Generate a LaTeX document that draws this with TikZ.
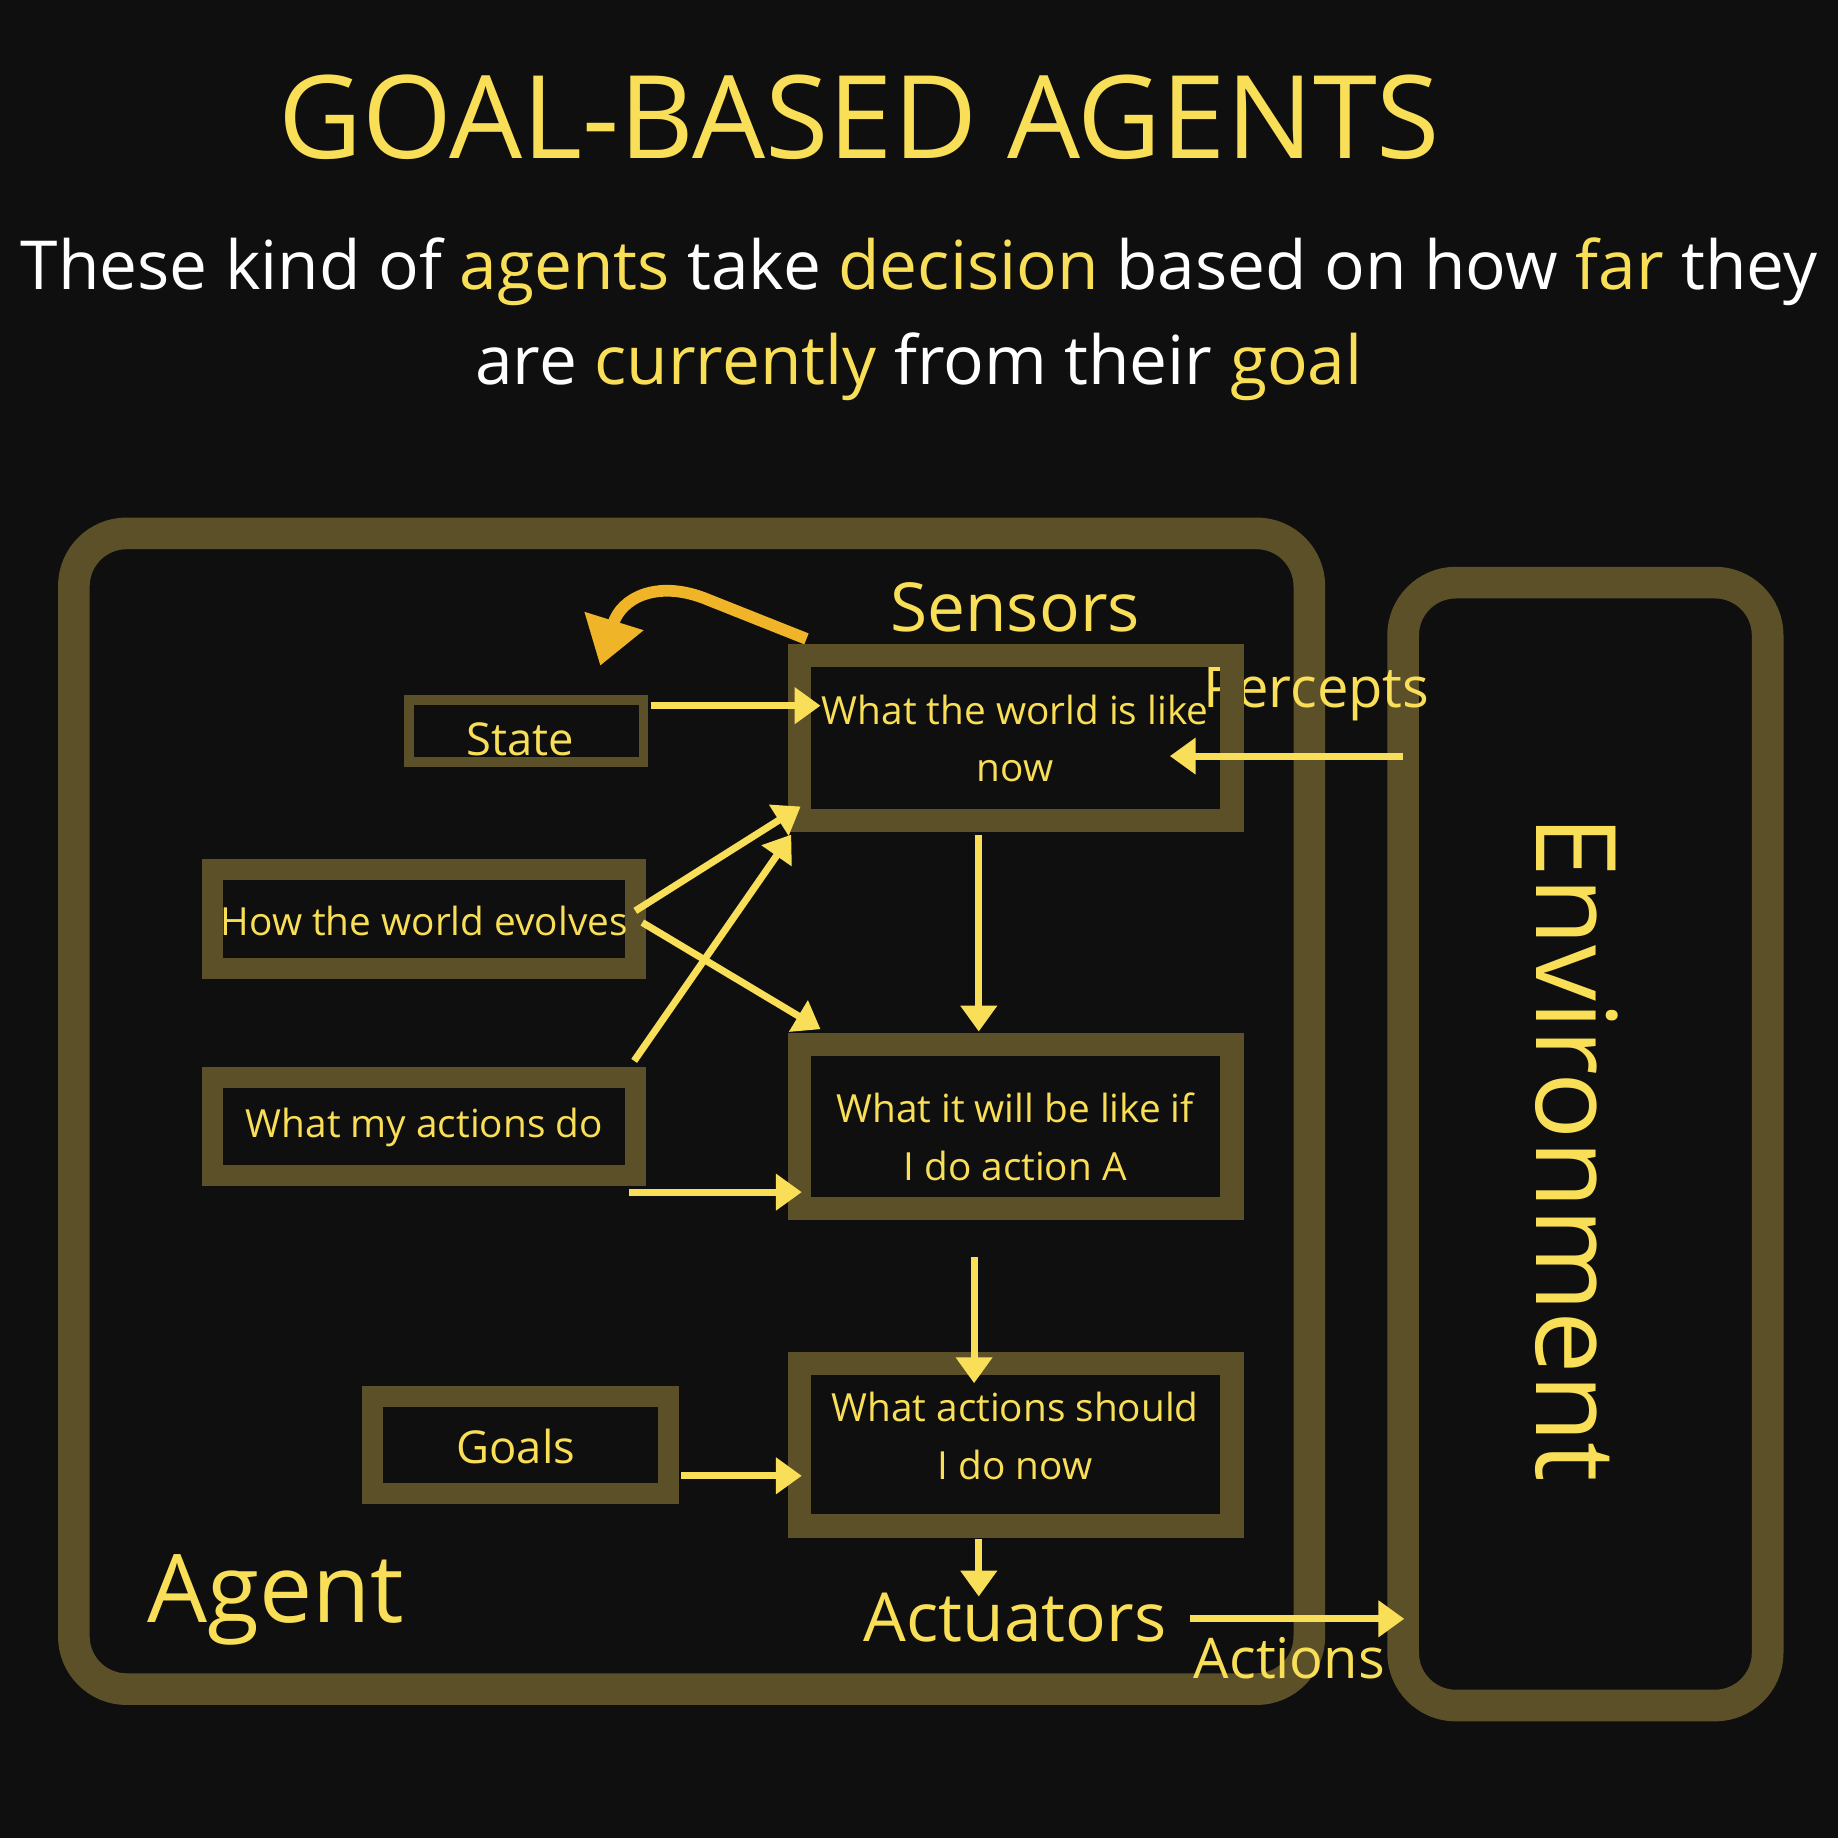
\documentclass[tikz,border=0pt]{standalone}
\usepackage{fontspec}
\setmainfont{Open Sans}
\usetikzlibrary{arrows.meta}
\definecolor{bg}{HTML}{0F0F0F}
\definecolor{olive}{HTML}{5C5028}
\definecolor{yel}{HTML}{F9DF57}
\definecolor{org}{HTML}{F0B429}
\tikzset{
 frame/.style={draw=olive,line width=0.27cm,rounded corners=0.45cm},
 inbox/.style={draw=olive,line width=0.2cm},
 lbl/.style={text=yel,font=\fontsize{9.4}{14}\selectfont,align=center},
 arr/.style={draw=yel,line width=0.06cm,-{Triangle[length=0.22cm,width=0.3cm]}},
}
\begin{document}
\begin{tikzpicture}[x=0.01cm,y=-0.01cm]
\useasboundingbox (0,0) rectangle (1568,1568);
\fill[bg] (0,0) rectangle (1568,1568);
\node[text=yel,font=\fontsize{28}{34}\selectfont] (title) at (733,100) {GOAL-BASED AGENTS};
\node[text=white,font=\fontsize{16.4}{23}\selectfont,align=center] (sub) at (784,272)
 {These kind of \textcolor{yel}{agents} take \textcolor{yel}{decision} based on how \textcolor{yel}{far} they\\are \textcolor{yel}{currently} from their \textcolor{yel}{goal}};
\draw[frame] (63,455) rectangle (1117,1441);
\draw[frame] (1197,497) rectangle (1508,1455);
\node[text=yel,font=\fontsize{27}{32}\selectfont,rotate=-90] (env) at (1345,980) {Environment};
\node[text=yel,font=\fontsize{23}{28}\selectfont] (agent) at (235,1365) {Agent};
\node[text=yel,font=\fontsize{16.4}{20}\selectfont] (sens) at (866,518) {Sensors};
\node[text=yel,font=\fontsize{16.4}{20}\selectfont] (act) at (866,1380) {Actuators};
\node[text=yel,font=\fontsize{13.6}{17}\selectfont] (perc) at (1123,592) {Percepts};
\node[text=yel,font=\fontsize{13.6}{17}\selectfont] (acts) at (1100,1415) {Actions};
\draw[inbox,line width=0.08cm] (349,597) rectangle (549,650);
\node[lbl,font=\fontsize{11}{14}\selectfont] (state) at (444,631) {State};
\draw[inbox,line width=0.18cm] (181,742) rectangle (542,826);
\node[lbl] (how) at (362,786) {How the world evolves};
\draw[inbox,line width=0.18cm] (181,919) rectangle (542,1003);
\node[lbl] (mine) at (362,962) {What my actions do};
\draw[inbox,line width=0.18cm] (318,1191) rectangle (570,1274);
\node[lbl,font=\fontsize{11}{14}\selectfont] (goals) at (440,1234) {Goals};
\draw[inbox] (682,559) rectangle (1051,700);
\node[lbl] (now) at (866,630) {What the world is like\\now};
\draw[inbox] (682,891) rectangle (1051,1031);
\node[lbl] (will) at (866,970) {What it will be like if\\I do action A};
\draw[inbox] (682,1163) rectangle (1051,1302);
\node[lbl] (should) at (866,1225) {What actions should\\I do now};
\draw[arr] (555,602) -- (700,602);
\draw[arr] (1197,645) -- (998,645);
\draw[arr] (542,777) -- (683,688);
\draw[arr] (548,787) -- (700,878);
\draw[arr] (541,905) -- (675,712);
\draw[arr] (537,1017) -- (684,1017);
\draw[arr] (835,712) -- (835,880);
\draw[arr] (831,1072) -- (831,1180);
\draw[arr] (581,1259) -- (684,1259);
\draw[arr] (835,1313) -- (835,1362);
\draw[arr] (1015,1381) -- (1198,1381);
\draw[draw=org,line width=0.1cm,-{Triangle[length=0.4cm,width=0.5cm]}] (688,545) -- (600,510) .. controls (560,495) and (530,510) .. (512,568);
\end{tikzpicture}
\end{document}
